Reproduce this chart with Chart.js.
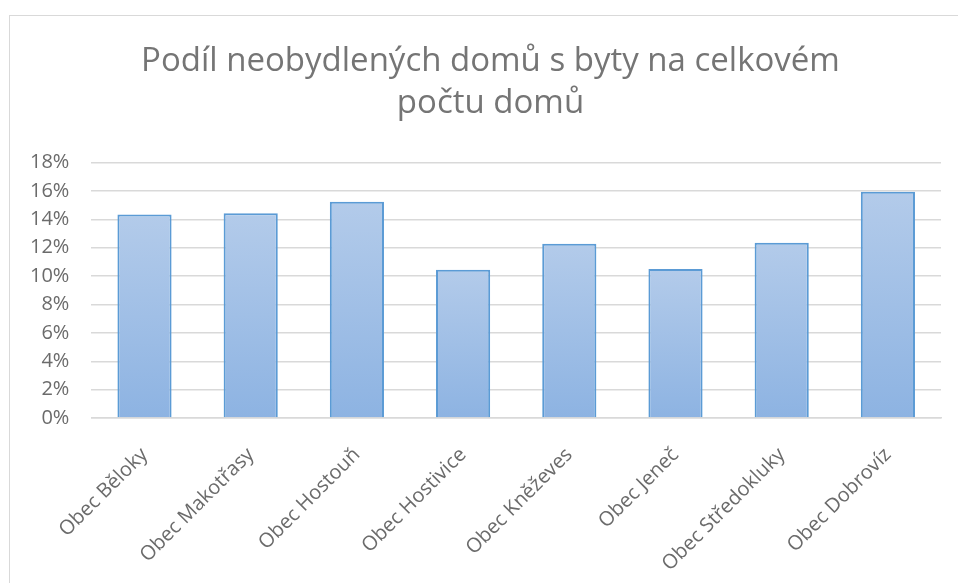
<!DOCTYPE html>
<html>
<head>
<meta charset="utf-8">
<script src="https://cdn.jsdelivr.net/npm/chart.js@4"></script>
<style>
    body { margin: 0; background: #fff; overflow: hidden; }
    #frame {
        position: absolute; left: 9px; top: 15px;
        width: 1000px; height: 700px;
        border: 1px solid #d9d9d9;
    }
    #wrap { position: absolute; left: 0; top: 0; width: 958px; height: 593px; }
</style>
</head>
<body>
<div id="frame"></div>
<div id="wrap"><canvas id="chart"></canvas></div>
<script>
// Data
const categories = ['Obec Běloky', 'Obec Makotřasy', 'Obec Hostouň', 'Obec Hostivice',
    'Obec Kněževes', 'Obec Jeneč', 'Obec Středokluky', 'Obec Dobrovíz'];
const shares = [0.1433, 0.1442, 0.1524, 0.1045, 0.1227, 0.1050, 0.1234, 0.1594];
const titleLines = ['Podíl neobydlených domů s byty na celkovém', 'počtu domů'];

// per-bar vertical gradient, light at the top
function barFill(ctx) {
    const chart = ctx.chart;
    if (!chart.chartArea || !chart.scales.y) return '#a0bfe6';
    const y = chart.scales.y;
    const top = y.getPixelForValue(ctx.raw);
    const base = y.getPixelForValue(0);
    const g = chart.ctx.createLinearGradient(0, top, 0, base);
    g.addColorStop(0, '#b3cbea');
    g.addColorStop(1, '#8db3e2');
    return g;
}

// the title in the original sits a little right of the plot centre
const titleShift = {
    id: 'titleShift',
    afterLayout(chart) {
        const t = chart.titleBlock;
        if (t) { t.left += 16; t.right += 16; }
    }
};

new Chart(document.getElementById('chart'), {
    type: 'bar',
    data: {
        labels: categories,
        datasets: [{
            data: shares,
            backgroundColor: barFill,
            borderColor: '#5b9bd5',
            borderWidth: 2,
            categoryPercentage: 1,
            barPercentage: 0.51
        }]
    },
    plugins: [titleShift],
    options: {
        responsive: true,
        maintainAspectRatio: false,
        animation: false,
        layout: { padding: { left: 8, right: 17, top: 0, bottom: 0 } },
        plugins: {
            legend: { display: false },
            tooltip: { enabled: false },
            title: {
                display: true,
                text: titleLines,
                color: '#757575',
                font: { family: 'Open Sans', size: 33, weight: 'normal', lineHeight: 1.28 },
                padding: { top: 40, bottom: 38 }
            }
        },
        scales: {
            y: {
                min: 0,
                max: 0.18,
                border: { display: false },
                grid: { color: '#d9d9d9', lineWidth: 1.5, drawTicks: false },
                ticks: {
                    stepSize: 0.02,
                    padding: 22,
                    color: '#6b6b6b',
                    font: { family: 'Open Sans', size: 20 },
                    callback: v => Math.round(v * 100) + '%'
                }
            },
            x: {
                border: { color: '#d9d9d9', width: 1.5 },
                grid: { display: false },
                ticks: {
                    minRotation: 45,
                    maxRotation: 45,
                    padding: 17,
                    color: '#6b6b6b',
                    font: { family: 'Open Sans', size: 20 }
                }
            }
        }
    }
});
</script>
</body>
</html>
